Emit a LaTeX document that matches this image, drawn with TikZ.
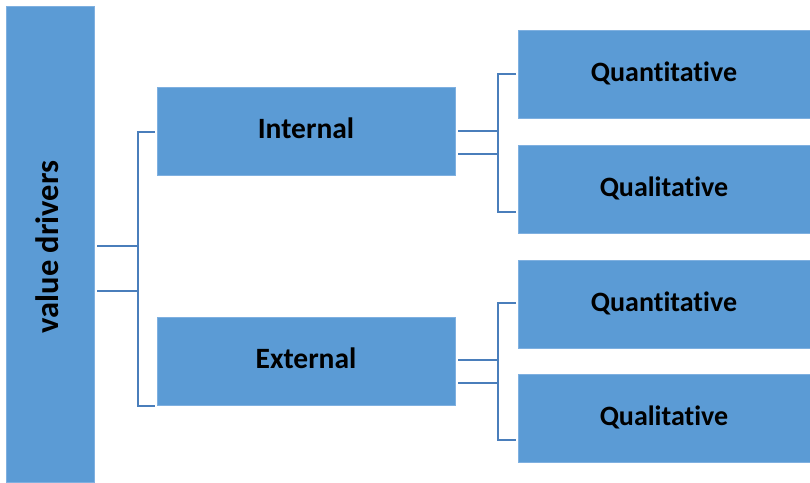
\documentclass[tikz,border=0pt]{standalone}
\usepackage{fontspec}
\setmainfont[Ligatures=NoCommon]{Carlito}
\begin{document}
\begin{tikzpicture}[x=1pt,y=-1pt,
  box/.style={fill=boxblue,draw=boxedge,line width=0.6pt,font=\bfseries\fontsize{28}{32}\selectfont,text=black,inner sep=0pt,text depth=4pt},
  midbox/.style={box,font=\bfseries\fontsize{29.5}{34}\selectfont,text depth=6pt,minimum width=298pt,minimum height=88pt},
  rbox/.style={box,minimum width=292pt,minimum height=88pt},
  conn/.style={draw=lineblue,line width=2.5pt}]
\definecolor{boxblue}{HTML}{5B9BD5}
\definecolor{boxedge}{HTML}{7FB0E0}
\definecolor{lineblue}{HTML}{4A7EBB}
\useasboundingbox (0,0) rectangle (810,482);
\path[box] (6,6) rectangle (94,482);
\node[font=\bfseries\fontsize{32.5}{36}\selectfont,rotate=90,inner sep=0pt] (vd) at (47,247) {value drivers};
\node[midbox] (int) at (306,131.5) {Internal};
\node[midbox] (ext) at (306,361) {External};
\node[rbox] (q1) at (664,74) {Quantitative};
\node[rbox] (l1) at (664,189) {Qualitative};
\node[rbox] (q2) at (664,304) {Quantitative};
\node[rbox] (l2) at (664,418) {Qualitative};
% bracket 1
\draw[conn] (97,246) -- (138,246);
\draw[conn] (97,291) -- (138,291);
\draw[conn] (155,132) -- (138,132) -- (138,406) -- (155,406);
% bracket 2
\draw[conn] (458,131) -- (498,131);
\draw[conn] (458,154) -- (498,154);
\draw[conn] (516,74) -- (498,74) -- (498,212) -- (516,212);
% bracket 3
\draw[conn] (458,360) -- (498,360);
\draw[conn] (458,383) -- (498,383);
\draw[conn] (516,303) -- (498,303) -- (498,440) -- (516,440);
\end{tikzpicture}
\end{document}
